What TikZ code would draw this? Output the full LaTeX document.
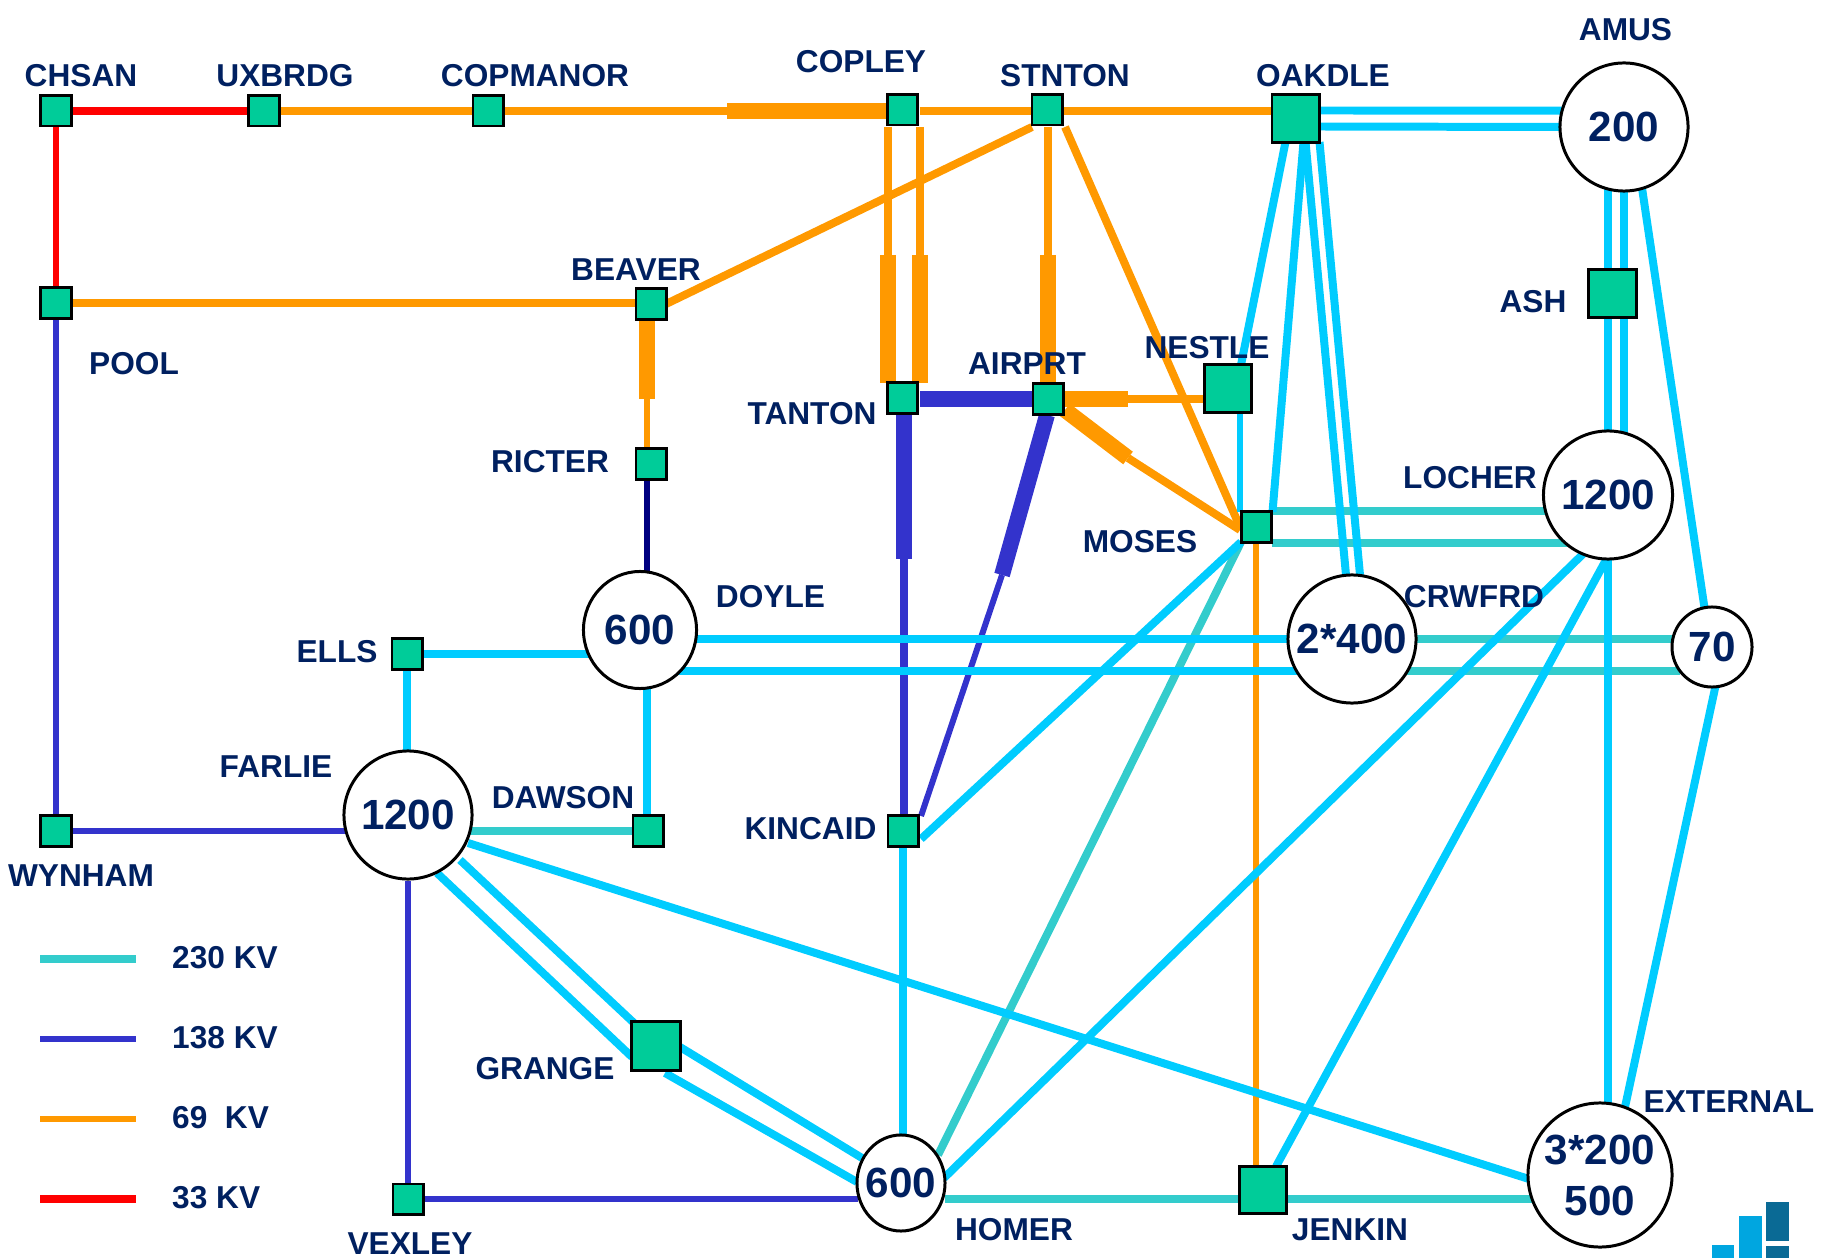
\documentclass[tikz,border=0pt]{standalone}
\usepackage{fontspec}
\setmainfont{Liberation Sans}
\usetikzlibrary{calc,shapes.geometric,backgrounds}
\definecolor{navytext}{HTML}{002060}
\definecolor{busgreen}{HTML}{00CC99}
\definecolor{kvt}{HTML}{33CCCC}
\definecolor{kvb}{HTML}{3333CC}
\definecolor{kvo}{HTML}{FF9900}
\definecolor{kvr}{HTML}{FF0000}
\definecolor{kvc}{HTML}{00CCFF}
\definecolor{kvn}{HTML}{000080}
\definecolor{logoa}{HTML}{00A6E0}
\definecolor{logob}{HTML}{0A6A95}
\newcommand\subtxt[1]{\makebox[0pt]{\raisebox{-0.6pt}{#1}}}
\tikzset{
  busbox/.style={rectangle,draw=black,line width=0.85pt,fill=busgreen,inner sep=0pt,minimum size=#1},
  busbox/.default=0.3cm,
  subst/.style={ellipse,draw=black,line width=0.85pt,fill=white,inner sep=0pt,align=center,text=navytext,
     font=\fontsize{12}{14.5}\selectfont\bfseries},
  tagtext/.style={inner sep=0pt,yshift=-0.1pt,text=navytext,font=\fontsize{9}{11}\selectfont\bfseries},
  wire/.style={line width=2.27pt,line cap=butt},
  slim/.style={line width=1.7pt,line cap=butt},
  fat/.style={line width=4.5pt,line cap=butt},
}
\begin{document}
\begin{tikzpicture}[x=0.01cm,y=-0.01cm]
\useasboundingbox (0,0) rectangle (1839,1258);
% substations
\node[busbox] (chs) at (56,111) {};
\node[busbox] (uxb) at (264,111) {};
\node[busbox] (cpm) at (488,111) {};
\node[busbox] (cop) at (902.5,110) {};
\node[busbox] (sta) at (1047,110) {};
\node[busbox=0.47cm] (oak) at (1295.5,118.5) {};
\node[busbox] (pool) at (56,303) {};
\node[busbox] (bea) at (651,304) {};
\node[busbox] (ric) at (651,464) {};
\node[busbox] (tan) at (902.5,398) {};
\node[busbox] (air) at (1048,399) {};
\node[busbox=0.47cm] (nes) at (1228,388.5) {};
\node[busbox] (mos) at (1256,527) {};
\node[busbox=0.48cm] (ash) at (1612.5,293.5) {};
\node[busbox] (ell) at (407,654) {};
\node[busbox] (wyn) at (56,831) {};
\node[busbox] (daw) at (648,831) {};
\node[busbox] (kin) at (903,831) {};
\node[busbox=0.48cm] (gra) at (656,1046) {};
\node[busbox] (vex) at (408,1199) {};
\node[busbox=0.47cm] (jen) at (1263,1190) {};
\node[subst,minimum width=1.28cm,minimum height=1.28cm] (amus) at (1624,127) {\subtxt{200}};
\node[subst,minimum width=1.29cm,minimum height=1.28cm] (loc) at (1608,495) {\subtxt{1200}};
\node[subst,minimum width=1.28cm,minimum height=1.28cm] (crw) at (1352,639) {\subtxt{2*400}};
\node[subst,minimum width=0.80cm,minimum height=0.80cm] (seventy) at (1712,647) {\subtxt{70}};
\node[subst,minimum width=1.13cm,minimum height=1.17cm] (doy) at (640,630) {\subtxt{600}};
\node[subst,minimum width=1.28cm,minimum height=1.28cm] (far) at (408,815) {\subtxt{1200}};
\node[subst,minimum width=0.88cm,minimum height=0.96cm] (hom) at (901,1183) {\subtxt{600}};
\node[subst,minimum width=1.44cm,minimum height=1.44cm] (ext) at (1600,1175) {\subtxt{3*200}\\\subtxt{500}};
% waypoints where a line changes width
\coordinate (copw) at (727,111);
\coordinate (cl) at (888,255);
\coordinate (cr) at (920,255);
\coordinate (sa) at (1048,255);
\coordinate (br) at (647,399);
\coordinate (tk) at (904,559);
\coordinate (ak) at (1002,575);
\coordinate (an) at (1128,399);
\coordinate (am) at (1128,458);
\begin{pgfonlayer}{background}
% 33 kV
\draw[wire,kvr] (chs) -- (uxb);
\draw[slim,kvr] (chs) -- (pool);
% 69 kV
\draw[wire,kvo] (uxb) -- (cpm);
\draw[wire,kvo] (cpm) -- (copw);
\draw[fat,kvo] (copw) -- ($(cop)+(0,1)$);
\draw[wire,kvo] ($(cop)+(17,1)$) -- ($(sta)+(-15,1)$);
\draw[wire,kvo] ($(sta)+(17,1)$) -- ($(oak)+(-23.5,-7.5)$);
\draw[wire,kvo] (pool) -- ($(bea)+(-15,-1)$);
\draw[wire,kvo] ($(bea)+(15,0)$) -- ($(sta)+(-15,17)$);
\draw[fat,kvo] ($(bea)+(-4,15)$) -- (br);
\draw[slim,kvo] (br) -- ($(ric)+(-4,-16)$);
\draw[wire,kvo] ($(cop)+(-14.5,17)$) -- (cl);
\draw[fat,kvo] (cl) -- ($(tan)+(-14.5,-15)$);
\draw[wire,kvo] ($(cop)+(17.5,17)$) -- (cr);
\draw[fat,kvo] (cr) -- ($(tan)+(17.5,-15)$);
\draw[wire,kvo] ($(sta)+(1,17)$) -- (sa);
\draw[fat,kvo] (sa) -- ($(air)+(0,-15)$);
\draw[wire,kvo] ($(sta)+(18,17)$) -- ($(mos)+(-16,0)$);
\draw[fat,kvo] ($(air)+(15,0)$) -- (an);
\draw[wire,kvo] (an) -- ($(nes)+(-24,10.5)$);
\draw[fat,kvo] ($(air)+(17,11)$) -- (am);
\draw[wire,kvo] (am) -- ($(mos)+(-16,3)$);
\draw[slim,kvo] ($(mos)+(0,15)$) -- ($(jen)+(-7,-23.5)$);
% 138 kV
\draw[slim,kvb] (pool) -- (wyn);
\draw[slim,kvb] ($(wyn)+(16,0)$) -- ($(far)+(-62,16)$);
\draw[slim,kvb] (far) -- (vex);
\draw[slim,kvb] ($(vex)+(16,0)$) -- ($(hom)+(-43,16)$);
\draw[fat,kvb] ($(tan)+(17.5,1)$) -- ($(air)+(-15,0)$);
\draw[fat,kvb] ($(tan)+(1.5,17)$) -- (tk);
\draw[wire,kvb] (tk) -- ($(kin)+(1,-16)$);
\draw[fat,kvb] ($(air)+(-1,16)$) -- (ak);
\draw[slim,kvb] (ak) -- ($(kin)+(18,-15)$);
\draw[slim,kvn] ($(ric)+(-4,16)$) -- ($(doy)+(7,-58)$);
% 230 kV
\draw[wire,kvt] ($(far)+(62,16)$) -- ($(daw)+(-16,0)$);
\draw[wire,kvt] ($(mos)+(16,-16)$) -- ($(loc)+(-63,16)$);
\draw[wire,kvt] ($(mos)+(16,16)$) -- ($(loc)+(-40,48)$);
\draw[wire,kvt] ($(crw)+(64,0)$) -- ($(seventy)+(-40,-8)$);
\draw[wire,kvt] ($(crw)+(55,32)$) -- ($(seventy)+(-32,24)$);
\draw[wire,kvt] ($(hom)+(44,16)$) -- ($(jen)+(-23.5,9)$);
\draw[wire,kvt] ($(jen)+(23.5,9)$) -- ($(ext)+(-68,24)$);
\draw[wire,kvt] ($(mos)+(-15,15)$) -- ($(hom)+(37,-28)$);
% cyan lines
\draw[wire,kvc] ($(oak)+(23,-8)$) -- ($(amus)+(-62,-16.4)$);
\draw[wire,kvc] ($(oak)+(23,8)$) -- ($(amus)+(-63,0)$);
\draw[wire,kvc] ($(oak)+(-10,23.5)$) -- ($(nes)+(13,-23.5)$);
\draw[slim,kvc] ($(nes)+(12,23.5)$) -- ($(mos)+(-16,-15)$);
\draw[wire,kvc] ($(oak)+(8,23.5)$) -- ($(mos)+(16.5,-15)$);
\draw[wire,kvc] ($(oak)+(10,23.5)$) -- ($(crw)+(-6,-64)$);
\draw[wire,kvc] ($(oak)+(24,23.5)$) -- ($(crw)+(8,-64)$);
\draw[wire,kvc] ($(amus)+(-16,62)$) -- ($(ash)+(-4.5,-24)$);
\draw[wire,kvc] ($(amus)+(0,63)$) -- ($(ash)+(11.5,-24)$);
\draw[wire,kvc] ($(ash)+(-4.5,24)$) -- ($(loc)+(0,-63)$);
\draw[wire,kvc] ($(ash)+(11.5,24)$) -- ($(loc)+(16,-62)$);
\draw[wire,kvc] ($(amus)+(18,61)$) -- ($(seventy)+(-7.5,-39)$);
\draw[wire,kvc] ($(seventy)+(3.5,39)$) -- ($(ext)+(25,-68)$);
\draw[wire,kvc] ($(loc)+(0,63)$) -- ($(ext)+(8,-71)$);
\draw[wire,kvc] ($(loc)+(-25,59)$) -- ($(hom)+(43,-5)$);
\draw[wire,kvc] ($(loc)+(-1,63)$) -- ($(jen)+(13,-23.5)$);
\draw[wire,kvc] ($(mos)+(-15,15)$) -- ($(kin)+(18,8)$);
\draw[wire,kvc] ($(doy)+(56,9)$) -- ($(crw)+(-63,0)$);
\draw[wire,kvc] ($(doy)+(38,41)$) -- ($(crw)+(-54,32)$);
\draw[wire,kvc] ($(ell)+(16,0)$) -- ($(doy)+(-50,24)$);
\draw[wire,kvc] ($(ell)+(0,16)$) -- ($(far)+(-1,-63)$);
\draw[wire,kvc] ($(doy)+(7,57)$) -- ($(daw)+(-1,-15)$);
\draw[wire,kvc] ($(far)+(52,45)$) -- ($(gra)+(-22,-23)$);
\draw[wire,kvc] ($(far)+(29,58)$) -- ($(gra)+(-24,11)$);
\draw[wire,kvc] ($(gra)+(24,1)$) -- ($(hom)+(-39,-25)$);
\draw[wire,kvc] ($(gra)+(9,27)$) -- ($(hom)+(-44,-1)$);
\draw[wire,kvc] ($(far)+(60,28)$) -- ($(ext)+(-71,4)$);
\draw[wire,kvc] ($(kin)+(0,16)$) -- ($(hom)+(2,-47)$);
\end{pgfonlayer}
% names
\node[tagtext] (tchs) at (81,75) {CHSAN};
\node[tagtext] (tuxb) at (285,75) {UXBRDG};
\node[tagtext] (tcpm) at (535,75) {COPMANOR};
\node[tagtext] (tcop) at (861,61) {COPLEY};
\node[tagtext] (tsta) at (1065,75) {STNTON};
\node[tagtext] (toak) at (1323,75) {OAKDLE};
\node[tagtext] (tamus) at (1625.5,29) {AMUS};
\node[tagtext] (tbea) at (636,269) {BEAVER};
\node[tagtext] (tpool) at (134,363.5) {POOL};
\node[tagtext] (tash) at (1533,301) {ASH};
\node[tagtext] (tnes) at (1207,347) {NESTLE};
\node[tagtext] (tair) at (1027,363.5) {AIRPRT};
\node[tagtext] (ttan) at (812,413) {TANTON};
\node[tagtext] (tric) at (550,461) {RICTER};
\node[tagtext] (tloc) at (1470,477) {LOCHER};
\node[tagtext] (tmos) at (1140,541) {MOSES};
\node[tagtext] (tdoy) at (770.5,596) {DOYLE};
\node[tagtext] (tcrw) at (1474,596) {CRWFRD};
\node[tagtext] (tell) at (337,651) {ELLS};
\node[tagtext] (tfar) at (276,766) {FARLIE};
\node[tagtext] (tdaw) at (563,797.5) {DAWSON};
\node[tagtext] (tkin) at (810.5,828) {KINCAID};
\node[tagtext] (twyn) at (81,875) {WYNHAM};
\node[tagtext] (tgra) at (545,1068) {GRANGE};
\node[tagtext] (text) at (1729,1101) {EXTERNAL};
\node[tagtext] (thom) at (1014,1229) {HOMER};
\node[tagtext] (tjen) at (1350,1229) {JENKIN};
\node[tagtext] (tvex) at (410,1243) {VEXLEY};
% legend
\coordinate (la) at (40,959); \coordinate (lb) at (136,959);
\coordinate (lc) at (40,1039); \coordinate (ld) at (136,1039);
\coordinate (le) at (40,1119); \coordinate (lf) at (136,1119);
\coordinate (lg) at (40,1199); \coordinate (lh) at (136,1199);
\draw[wire,kvt] (la) -- (lb);
\draw[slim,kvb] (lc) -- (ld);
\draw[slim,kvo] (le) -- (lf);
\draw[wire,kvr] (lg) -- (lh);
\node[tagtext,anchor=west] (lt) at (171.5,957) {230 KV};
\node[tagtext,anchor=west] (lu) at (171.5,1037) {138 KV};
\node[tagtext,anchor=west] (lv) at (171.5,1117) {69~~KV};
\node[tagtext,anchor=west] (lw) at (171.5,1197) {33 KV};
% logo
\fill[logoa] (1712,1245) rectangle (1734,1258);
\fill[logoa] (1739,1216) rectangle (1762,1258);
\fill[logob] (1766,1202) rectangle (1789,1241);
\fill[logob] (1766,1246) rectangle (1789,1258);
\end{tikzpicture}
\end{document}
